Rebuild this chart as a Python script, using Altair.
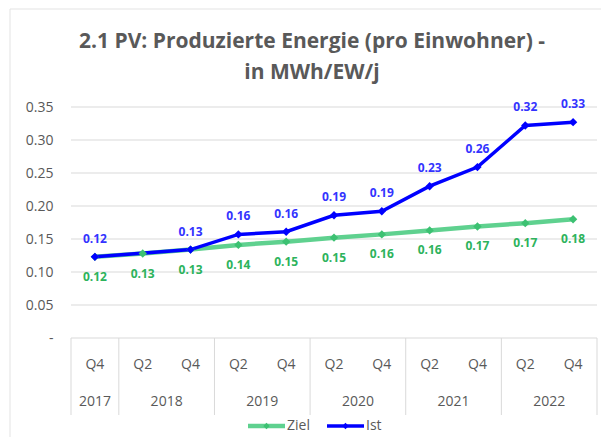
import altair as alt
import pandas as pd

# ---- data ----
quarters = ["Q4", "Q2", "Q4", "Q2", "Q4", "Q2", "Q4", "Q2", "Q4", "Q2", "Q4"]
years = ["2017", "2018", "2018", "2019", "2019", "2020", "2020", "2021", "2021", "2022", "2022"]
ziel = [0.123, 0.128, 0.134, 0.141, 0.146, 0.152, 0.157, 0.163, 0.169, 0.174, 0.180]
ist = [0.123, None, 0.134, 0.157, 0.161, 0.186, 0.192, 0.230, 0.259, 0.322, 0.327]
series_names = ["Ziel", "Ist"]
line_colors = ["#5FD18F", "#0000FF"]
label_colors = ["#2DB35C", "#3333FF"]
title_lines = ["2.1 PV: Produzierte Energie (pro Einwohner) -", "in MWh/EW/j"]
y_ticks = [0, 0.05, 0.10, 0.15, 0.20, 0.25, 0.30, 0.35]

FONT = "Open Sans"
GREY = "#595959"
GRID = "#D9D9D9"

# ---- tables built from the arrays ----
rows = []
for i, (q, y) in enumerate(zip(quarters, years)):
    for name, vals in zip(series_names, [ziel, ist]):
        if vals[i] is not None:
            rows.append({"idx": i, "quarter": q, "year": y, "series": name, "value": vals[i]})
df = pd.DataFrame(rows)

cat = pd.DataFrame({"idx": list(range(len(quarters))), "quarter": quarters, "year": years})
year_groups = cat.groupby("year", sort=False)["idx"].agg(["min", "max"]).reset_index()
year_groups["center"] = (year_groups["min"] + year_groups["max"]) / 2
bounds = sorted(set([g - 0.5 for g in year_groups["min"]] + [g + 0.5 for g in year_groups["max"]]))
bounds_df = pd.DataFrame({"b": bounds})

xscale = alt.Scale(domain=[-0.5, len(quarters) - 0.5], nice=False, zero=False)
yscale = alt.Scale(domain=[0, 0.35], nice=False, zero=True)
yaxis = alt.Axis(values=y_ticks, title=None, domain=False, ticks=False, grid=False,
                 labelExpr="datum.value == 0 ? '-' : format(datum.value, '.2f')",
                 labelFont=FONT, labelFontSize=14, labelColor=GREY, labelPadding=18)

W, H = 526, 231

# gridlines / y axis
grid = alt.Chart(pd.DataFrame({"t": y_ticks})).mark_rule(color=GRID, strokeWidth=1).encode(
    y=alt.Y("t:Q", scale=yscale, axis=yaxis),
    x=alt.value(0), x2=alt.value(W),
)

# category table
seps = alt.Chart(bounds_df).mark_rule(color=GRID, strokeWidth=1).encode(
    x=alt.X("b:Q", scale=xscale, axis=None),
    y=alt.value(H), y2=alt.value(H + 77),
)
qlab = alt.Chart(cat).mark_text(font=FONT, fontSize=14, color=GREY, baseline="middle").encode(
    x=alt.X("idx:Q", scale=xscale, axis=None),
    y=alt.value(H + 27), text="quarter:N",
)
ylab = alt.Chart(year_groups).mark_text(font=FONT, fontSize=14, color=GREY, baseline="middle").encode(
    x=alt.X("center:Q", scale=xscale, axis=None),
    y=alt.value(H + 64), text="year:N",
)

layers = [grid, seps, qlab, ylab]
widths = {"Ziel": 4.5, "Ist": 3.5}
for name, col in zip(series_names, line_colors):
    layers.append(
        alt.Chart(df).transform_filter(alt.datum.series == name)
        .mark_line(color=col, strokeWidth=widths[name])
        .encode(x=alt.X("idx:Q", scale=xscale, axis=None), y=alt.Y("value:Q", scale=yscale, axis=yaxis))
    )
for name, col in zip(series_names, line_colors):
    layers.append(
        alt.Chart(df).transform_filter(alt.datum.series == name)
        .mark_point(shape="diamond", filled=True, size=70, color=col if name == "Ist" else "#3CC172", opacity=1)
        .encode(x=alt.X("idx:Q", scale=xscale, axis=None), y=alt.Y("value:Q", scale=yscale, axis=yaxis))
    )
offsets = {"Ziel": 20, "Ist": -18}
for name, col in zip(series_names, label_colors):
    layers.append(
        alt.Chart(df).transform_filter(alt.datum.series == name)
        .mark_text(font=FONT, fontSize=12, fontWeight="bold", color=col, dy=offsets[name], baseline="middle")
        .encode(x=alt.X("idx:Q", scale=xscale, axis=None), y=alt.Y("value:Q", scale=yscale, axis=yaxis),
                text=alt.Text("value:Q", format=".2f"))
    )

# title
for k, line in enumerate(title_lines):
    layers.append(
        alt.Chart(pd.DataFrame({"t": [line]})).mark_text(
            font=FONT, fontSize=21, fontWeight="bold", color=GREY, align="center", baseline="middle"
        ).encode(x=alt.value(241), y=alt.value(-65 + 31 * k), text="t:N")
    )

# legend
leg_x = [177, 256]
for name, col, lx in zip(series_names, line_colors, leg_x):
    ldf = pd.DataFrame({"name": [name]})
    layers.append(alt.Chart(ldf).mark_rule(color=col, strokeWidth=widths[name]).encode(
        x=alt.value(lx), x2=alt.value(lx + 37), y=alt.value(319)))
    layers.append(alt.Chart(ldf).mark_point(shape="diamond", filled=True, size=40,
                                            color=col if name == "Ist" else "#3CC172", opacity=1).encode(
        x=alt.value(lx + 18.5), y=alt.value(319)))
    layers.append(alt.Chart(ldf).mark_text(font=FONT, fontSize=14, color=GREY, align="left",
                                           baseline="middle").encode(
        x=alt.value(lx + 39), y=alt.value(319), text="name:N"))

# sheet frame lines
frame = pd.DataFrame({"f": [0]})
layers.append(alt.Chart(frame).mark_rule(color="#E3E3E3", strokeWidth=1).encode(
    x=alt.value(-61), x2=alt.value(-61), y=alt.value(-98), y2=alt.value(340)))
layers.append(alt.Chart(frame).mark_rule(color="#E3E3E3", strokeWidth=1).encode(
    x=alt.value(-61), x2=alt.value(W + 10), y=alt.value(-98), y2=alt.value(-98)))

chart = alt.layer(*layers).properties(
    width=W, height=H,
    autosize=alt.AutoSizeParams(type="none"),
    padding={"left": 63, "top": 99, "right": 4, "bottom": 99},
).configure_view(stroke=None)

chart.save("out.html", embed_options={"renderer": "svg", "actions": False})
